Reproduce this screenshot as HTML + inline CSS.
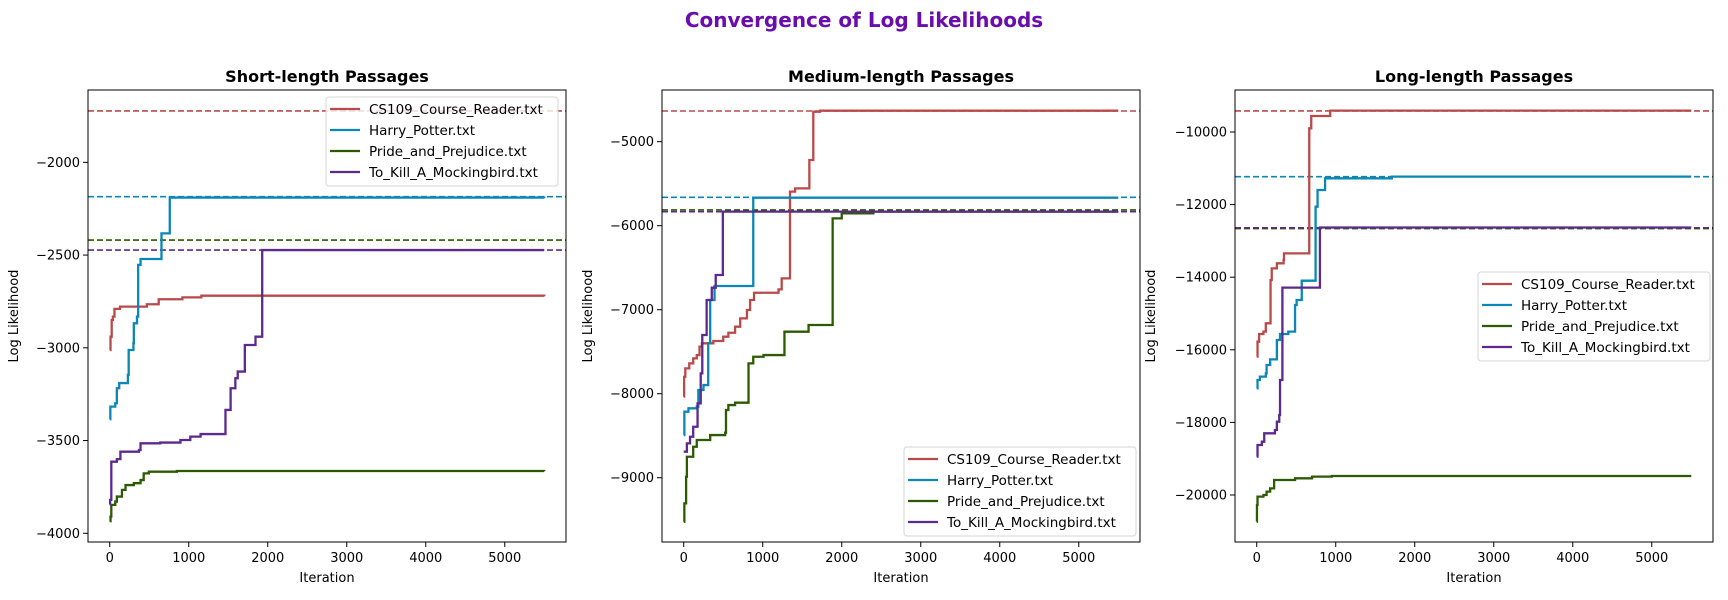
<!DOCTYPE html>
<html><head><meta charset="utf-8"><style>
html,body{margin:0;padding:0;background:#fff;}
svg{display:block;font-family:"DejaVu Sans","Liberation Sans",sans-serif;}
</style></head><body>
<svg id="chart" width="1728" height="600" viewBox="0 0 1728 600">
<text x="864" y="27" text-anchor="middle" font-size="20" font-weight="bold" fill="#6a0dad">Convergence of Log Likelihoods</text>
</svg>
<script>
// ---- data ----
const names = ["CS109_Course_Reader.txt","Harry_Potter.txt","Pride_and_Prejudice.txt","To_Kill_A_Mockingbird.txt"];
const colors = ["#b84a4a","#0a87b5","#2d5a00","#5b2a8c"];
const panelTitles = ["Short-length Passages","Medium-length Passages","Long-length Passages"];
const xTicks = [0,1000,2000,3000,4000,5000];
const yTicksShort = [-2000,-2500,-3000,-3500,-4000];
const yTicksMedium = [-5000,-6000,-7000,-8000,-9000];
const yTicksLong = [-10000,-12000,-14000,-16000,-18000,-20000];
const yRangeShort = [-4047,-1610];
const yRangeMedium = [-9765,-4385];
const yRangeLong = [-21295,-8843];
const targetsShort = [-1723,-2185,-2419,-2473];
const targetsMedium = [-4635,-5662,-5813,-5833];
const targetsLong = [-9421,-11231,-12660,-12640];

const shortX = [
 [0,10,25,40,60,130,470,620,920,1160,5500],
 [0,8,70,90,120,230,240,300,305,345,360,390,655,760,5500],
 [0,10,20,70,90,155,200,305,390,430,495,850,5500],
 [0,5,20,90,135,370,390,640,895,1020,1150,1465,1530,1590,1620,1710,1845,1930,5500]];
const shortY = [
 [-3012,-2940,-2850,-2832,-2790,-2778,-2765,-2738,-2728,-2719,-2722],
 [-3385,-3317,-3299,-3218,-3190,-3146,-3012,-2975,-2868,-2832,-2553,-2521,-2383,-2190,-2193],
 [-3935,-3910,-3847,-3829,-3802,-3766,-3740,-3730,-3713,-3677,-3668,-3664,-3665],
 [-3845,-3820,-3614,-3600,-3560,-3551,-3515,-3511,-3497,-3479,-3465,-3335,-3218,-3164,-3128,-2985,-2940,-2473,-2473]];
const mediumX = [
 [0,5,20,70,120,165,200,230,375,500,565,650,715,800,840,890,1200,1240,1345,1410,1590,1640,1725,5500],
 [0,8,60,165,185,250,310,335,390,880,5500],
 [0,8,30,40,120,165,335,525,535,565,650,820,880,1010,1275,1580,1885,2000,2400,5500],
 [0,40,80,120,175,215,235,290,355,405,495,5500]];
const mediumY = [
 [-8035,-7798,-7698,-7639,-7579,-7540,-7440,-7400,-7373,-7321,-7274,-7202,-7103,-7004,-6885,-6798,-6758,-6627,-5595,-5556,-5218,-4643,-4631,-4631],
 [-8492,-8214,-8174,-8155,-7956,-7897,-7400,-6885,-6718,-5667,-5667],
 [-9524,-9305,-8988,-8750,-8631,-8551,-8492,-8464,-8194,-8135,-8107,-7639,-7560,-7540,-7262,-7182,-5913,-5853,-5833,-5833],
 [-8690,-8591,-8512,-8393,-8115,-7758,-7301,-6885,-6738,-6587,-5833,-5833]];
const longX = [
 [0,10,30,85,115,175,190,255,340,345,665,690,930,5500],
 [0,10,40,115,125,170,255,295,400,485,505,570,745,770,865,1710,5500],
 [0,3,10,85,125,170,220,485,700,950,5500],
 [0,10,65,95,230,255,285,295,325,800,5500]];
const longY = [
 [-16189,-15776,-15565,-15500,-15271,-14077,-13756,-13618,-13526,-13343,-9899,-9559,-9412,-9412],
 [-17062,-16832,-16740,-16649,-16419,-16263,-15730,-15565,-15500,-14766,-14628,-14096,-12057,-11598,-11276,-11230,-11230],
 [-20735,-20276,-20046,-20000,-19908,-19817,-19587,-19541,-19495,-19477,-19477],
 [-18944,-18623,-18531,-18301,-18210,-17980,-17797,-16832,-14288,-12630,-12630]];

const panelLeft = [88,662,1235];
const plotW = 478, plotTop = 90, plotBot = 542;
const xMin = -275, xMax = 5775;
const svg = document.getElementById('chart');
const NS = 'http://www.w3.org/2000/svg';
function mk(tag, attrs, parent){const e=document.createElementNS(NS,tag);for(const k in attrs)e.setAttribute(k,attrs[k]);(parent||svg).appendChild(e);return e;}

const panels = [
 {xs:shortX, ys:shortY, yt:yTicksShort, yr:yRangeShort, tg:targetsShort, key:'short', leg:{x:326,y:97}},
 {xs:mediumX, ys:mediumY, yt:yTicksMedium, yr:yRangeMedium, tg:targetsMedium, key:'medium', leg:{x:904,y:447}},
 {xs:longX, ys:longY, yt:yTicksLong, yr:yRangeLong, tg:targetsLong, key:'long', leg:{x:1478,y:272}}];

panels.forEach((p,pi)=>{
  const L = panelLeft[pi], R = L+plotW;
  const sx = v => L + (v-xMin)/(xMax-xMin)*plotW;
  const sy = v => plotBot - (v-p.yr[0])/(p.yr[1]-p.yr[0])*(plotBot-plotTop);
  const g = mk('g',{});
  
  
  const clipId='clip'+pi;
  const cp=mk('clipPath',{id:clipId},g); mk('rect',{x:L,y:plotTop,width:plotW,height:plotBot-plotTop},cp);
  // title
  const t=mk('text',{x:L+plotW/2,y:82,'text-anchor':'middle','font-size':16,'font-weight':'bold',fill:'#000'},g);
  t.textContent=panelTitles[pi];
  
  
  // dashed targets
  p.tg.forEach((v,si)=>{
    const l=mk('line',{x1:L,x2:R,y1:sy(v),y2:sy(v),stroke:colors[si],'stroke-width':1.6,'stroke-dasharray':'6,3'},g);
    
    
  });
  // series
  p.xs.forEach((xs,si)=>{
    let d='';
    xs.forEach((x,i)=>{
      const X=sx(x), Y=sy(p.ys[si][i]);
      if(i===0) d+='M'+X+','+Y; else d+='H'+X+'V'+Y;
    });
    const path=mk('path',{d:d,fill:'none',stroke:colors[si],'stroke-width':2.3,'clip-path':'url(#'+clipId+')'},g);
    
    
  });
  // frame
  const fr=mk('rect',{x:L,y:plotTop,width:plotW,height:plotBot-plotTop,fill:'none',stroke:'#000','stroke-width':1},g);
  
  
  // x ticks
  xTicks.forEach(v=>{
    const X=sx(v);
    mk('line',{x1:X,x2:X,y1:plotBot,y2:plotBot+5,stroke:'#000'},g);
    const tx=mk('text',{x:X,y:plotBot+20,'text-anchor':'middle','font-size':13,fill:'#000'},g);
    tx.textContent=String(v);
    
    
  });
  const xl=mk('text',{x:L+plotW/2,y:plotBot+40,'text-anchor':'middle','font-size':13,fill:'#000'},g);
  xl.textContent='Iteration';
  
  
  // y ticks
  p.yt.forEach(v=>{
    const Y=sy(v);
    mk('line',{x1:L-5,x2:L,y1:Y,y2:Y,stroke:'#000'},g);
    const ty=mk('text',{x:L-8,y:Y+4.5,'text-anchor':'end','font-size':13,fill:'#000'},g);
    ty.textContent=String(v).replace('-','\u2212');
    
    
  });
  const ylx = [18,592,1155][pi];
  const yl=mk('text',{x:ylx,y:(plotTop+plotBot)/2,'text-anchor':'middle','font-size':13,fill:'#000',transform:'rotate(-90 '+ylx+' '+((plotTop+plotBot)/2)+')'},g);
  yl.textContent='Log Likelihood';
  
  
  // legend
  const lg=mk('g',{},g);
  
  
  mk('rect',{x:p.leg.x,y:p.leg.y,width:232,height:89,rx:3,fill:'#fff','fill-opacity':0.8,stroke:'#d6d6d6'},lg);
  names.forEach((n,si)=>{
    const ry=p.leg.y+12+si*21;
    const le=mk('g',{},lg);
    
    
    mk('line',{x1:p.leg.x+4,x2:p.leg.x+34,y1:ry,y2:ry,stroke:colors[si],'stroke-width':2.3},le);
    const lt=mk('text',{x:p.leg.x+43,y:ry+5,'font-size':13.5,fill:'#000'},le);
    lt.textContent=n;
  });
});
</script>
</body></html>
